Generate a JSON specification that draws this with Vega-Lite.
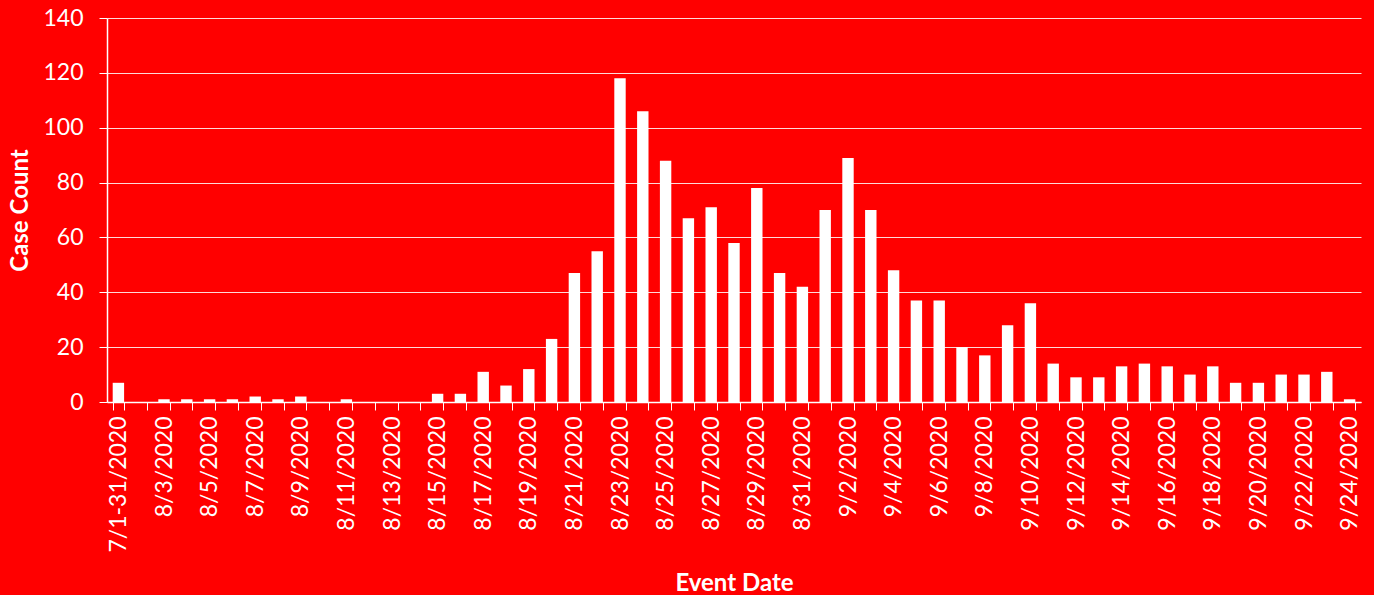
{
  "$schema": "https://vega.github.io/schema/vega-lite/v6.json",
  "autosize": {"type": "none"},
  "width": 1254,
  "height": 384,
  "padding": {"left": 107, "top": 18, "right": 13, "bottom": 193},
  "background": "#ff0000",
  "config": {
    "view": {"stroke": null},
    "font": "Lato"
  },
  "data": {
    "values": [
      {"date": "7/1-31/2020", "count": 7},
      {"date": "8/2/2020", "count": 0},
      {"date": "8/3/2020", "count": 1},
      {"date": "8/4/2020", "count": 1},
      {"date": "8/5/2020", "count": 1},
      {"date": "8/6/2020", "count": 1},
      {"date": "8/7/2020", "count": 2},
      {"date": "8/8/2020", "count": 1},
      {"date": "8/9/2020", "count": 2},
      {"date": "8/10/2020", "count": 0},
      {"date": "8/11/2020", "count": 1},
      {"date": "8/12/2020", "count": 0},
      {"date": "8/13/2020", "count": 0},
      {"date": "8/14/2020", "count": 0},
      {"date": "8/15/2020", "count": 3},
      {"date": "8/16/2020", "count": 3},
      {"date": "8/17/2020", "count": 11},
      {"date": "8/18/2020", "count": 6},
      {"date": "8/19/2020", "count": 12},
      {"date": "8/20/2020", "count": 23},
      {"date": "8/21/2020", "count": 47},
      {"date": "8/22/2020", "count": 55},
      {"date": "8/23/2020", "count": 118},
      {"date": "8/24/2020", "count": 106},
      {"date": "8/25/2020", "count": 88},
      {"date": "8/26/2020", "count": 67},
      {"date": "8/27/2020", "count": 71},
      {"date": "8/28/2020", "count": 58},
      {"date": "8/29/2020", "count": 78},
      {"date": "8/30/2020", "count": 47},
      {"date": "8/31/2020", "count": 42},
      {"date": "9/1/2020", "count": 70},
      {"date": "9/2/2020", "count": 89},
      {"date": "9/3/2020", "count": 70},
      {"date": "9/4/2020", "count": 48},
      {"date": "9/5/2020", "count": 37},
      {"date": "9/6/2020", "count": 37},
      {"date": "9/7/2020", "count": 20},
      {"date": "9/8/2020", "count": 17},
      {"date": "9/9/2020", "count": 28},
      {"date": "9/10/2020", "count": 36},
      {"date": "9/11/2020", "count": 14},
      {"date": "9/12/2020", "count": 9},
      {"date": "9/13/2020", "count": 9},
      {"date": "9/14/2020", "count": 13},
      {"date": "9/15/2020", "count": 14},
      {"date": "9/16/2020", "count": 13},
      {"date": "9/17/2020", "count": 10},
      {"date": "9/18/2020", "count": 13},
      {"date": "9/19/2020", "count": 7},
      {"date": "9/20/2020", "count": 7},
      {"date": "9/21/2020", "count": 10},
      {"date": "9/22/2020", "count": 10},
      {"date": "9/23/2020", "count": 11},
      {"date": "9/24/2020", "count": 1}
    ]
  },
  "mark": {"type": "bar", "color": "#ffffff"},
  "encoding": {
    "x": {
      "field": "date",
      "type": "nominal",
      "sort": null,
      "scale": {"paddingInner": 0.5, "paddingOuter": 0.25},
      "axis": {
        "title": "Event Date",
        "titleColor": "#ffffff",
        "titleFontSize": 24,
        "titleFontWeight": "bold",
        "titleY": 188,
        "titleBaseline": "alphabetic",
        "labelColor": "#ffffff",
        "labelFontSize": 23,
        "labelAngle": -90,
        "labelPadding": 6,
        "labelExpr": "round(datum.index * 54) % 2 == 0 ? datum.label : ''",
        "tickBand": "extent",
        "tickColor": "#ffffff",
        "tickSize": 8,
        "domainColor": "#ffffff",
        "domainWidth": 1.5,
        "grid": false
      }
    },
    "y": {
      "field": "count",
      "type": "quantitative",
      "scale": {"domain": [0, 140], "nice": false},
      "axis": {
        "values": [0, 20, 40, 60, 80, 100, 120, 140],
        "title": "Case Count",
        "titleColor": "#ffffff",
        "titleFontSize": 24,
        "titleFontWeight": "bold",
        "titleX": -99,
        "titleBaseline": "top",
        "labelColor": "#ffffff",
        "labelFontSize": 23,
        "labelPadding": 16,
        "tickColor": "#ffffff",
        "tickSize": 8,
        "domainColor": "#ffffff",
        "domainWidth": 1.5,
        "gridColor": "#ffffff",
        "gridOpacity": 0.85,
        "gridWidth": 1
      }
    }
  }
}
